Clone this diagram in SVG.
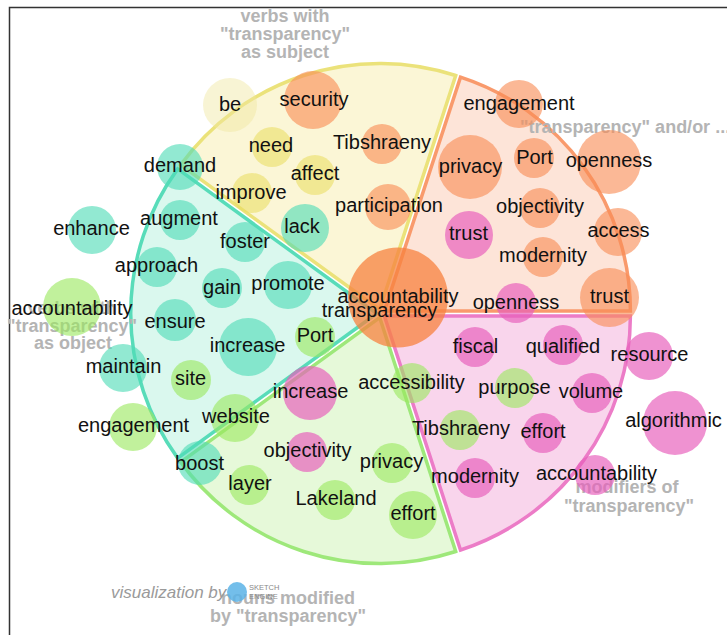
<svg xmlns="http://www.w3.org/2000/svg" width="727" height="635" viewBox="0 0 727 635">
<style>
.lbl{font-family:"Liberation Sans",Arial,sans-serif;font-size:20px;fill:#111;text-anchor:middle}
.cat{font-family:"Liberation Sans",Arial,sans-serif;font-size:18px;font-weight:bold;fill:#b4b4b4;text-anchor:middle}
.or{fill:#f88d55;fill-opacity:0.62}
.orc{fill:#f7813f;fill-opacity:0.75}
.yl{fill:#e9dd5c;fill-opacity:0.55}
.yll{fill:#efe7a0;fill-opacity:0.45}
.cy{fill:#4fdcb6;fill-opacity:0.62}
.gr{fill:#9be860;fill-opacity:0.62}
.pk{fill:#e85fbb;fill-opacity:0.68}
.w{stroke-width:3.5;stroke-linejoin:miter}
</style>
<rect x="0" y="0" width="727" height="635" fill="#fff"/>
<path d="M9.5,635 V7.5 H727" fill="none" stroke="#333" stroke-width="1.5"/>
<g id="sectors">
<path class="w" d="M379.7,309.5 L180.7,164.9 A246,246 0 0 1 455.7,75.5 Z" fill="#fbf6d6" stroke="#ebe27a"/>
<path class="w" d="M384.4,311 L460.5,77.1 A246,246 0 0 1 630.4,311 Z" fill="#fde4d8" stroke="#f99a6c"/>
<path class="w" d="M384.4,316 L630.4,316 A246,246 0 0 1 460.5,550 Z" fill="#f9d5ec" stroke="#ec7cc7"/>
<path class="w" d="M379.7,317.5 L455.7,551.5 A246,246 0 0 1 180.7,462.1 Z" fill="#e6f9d9" stroke="#9ee87a"/>
<path class="w" d="M376.75,313.5 L177.7,458.1 A246,246 0 0 1 177.7,168.9 Z" fill="#daf8ee" stroke="#58dcb9"/>
</g>
<g id="categories">
<text class="cat" x="285" y="22">verbs with</text>
<text class="cat" x="285" y="40">"transparency"</text>
<text class="cat" x="285" y="58">as subject</text>
<text class="cat" x="520" y="133" style="text-anchor:start">"transparency" and/or ...</text>
<text class="cat" x="72" y="314">verbs with</text>
<text class="cat" x="72" y="332">"transparency"</text>
<text class="cat" x="73" y="349">as object</text>
<text class="cat" x="627" y="493">modifiers of</text>
<text class="cat" x="629" y="512">"transparency"</text>
<text class="cat" x="288" y="604">nouns modified</text>
<text class="cat" x="288" y="622">by "transparency"</text>
</g>
<g id="credit">
<text x="111" y="598" style="font-family:'Liberation Sans',Arial,sans-serif;font-size:17px;font-style:italic;fill:#9a9a9a">visualization by</text>
<circle cx="237" cy="592" r="10" fill="#5ab3e6" fill-opacity="0.85"/>
<text x="249" y="590" style="font-family:'Liberation Sans',Arial,sans-serif;font-size:7.5px;fill:#888">SKETCH</text>
<text x="249" y="599" style="font-family:'Liberation Sans',Arial,sans-serif;font-size:7.5px;fill:#888">ENGINE</text>
</g>
<g id="n-be"><circle class="yll" cx="230" cy="105" r="27"/><text class="lbl" x="230" y="111">be</text></g>
<g id="n-security"><circle class="or" cx="313" cy="100" r="29"/><text class="lbl" x="314" y="106">security</text></g>
<g id="n-need"><circle class="yl" cx="272" cy="147" r="20"/><text class="lbl" x="271" y="152">need</text></g>
<g id="n-tibshraeny-s"><circle class="or" cx="382" cy="144" r="20"/><text class="lbl" x="382" y="149">Tibshraeny</text></g>
<g id="n-affect"><circle class="yl" cx="315" cy="175" r="20"/><text class="lbl" x="315" y="180">affect</text></g>
<g id="n-improve"><circle class="yl" cx="252" cy="193" r="20"/><text class="lbl" x="251" y="199">improve</text></g>
<g id="n-participation"><circle class="or" cx="388" cy="207" r="23"/><text class="lbl" x="389" y="212">participation</text></g>
<g id="n-lack"><circle class="cy" cx="305" cy="228" r="24"/><text class="lbl" x="302" y="233">lack</text></g>
<g id="n-demand"><circle class="cy" cx="180" cy="167" r="23"/><text class="lbl" x="180" y="172">demand</text></g>
<g id="n-enhance"><circle class="cy" cx="92" cy="230" r="24"/><text class="lbl" x="91.5" y="235">enhance</text></g>
<g id="n-augment"><circle class="cy" cx="180" cy="220" r="20"/><text class="lbl" x="179" y="225">augment</text></g>
<g id="n-foster"><circle class="cy" cx="245" cy="242" r="20"/><text class="lbl" x="245" y="248">foster</text></g>
<g id="n-approach"><circle class="cy" cx="157" cy="267" r="20"/><text class="lbl" x="156.5" y="272">approach</text></g>
<g id="n-gain"><circle class="cy" cx="222" cy="288" r="20"/><text class="lbl" x="222" y="294">gain</text></g>
<g id="n-promote"><circle class="cy" cx="288" cy="285" r="24"/><text class="lbl" x="288" y="290">promote</text></g>
<g id="n-ensure"><circle class="cy" cx="175" cy="320" r="21"/><text class="lbl" x="175" y="328">ensure</text></g>
<g id="n-increase-o"><circle class="cy" cx="248" cy="347" r="29"/><text class="lbl" x="247.5" y="352">increase</text></g>
<g id="n-port-o"><circle class="gr" cx="315" cy="337" r="20"/><text class="lbl" x="315" y="342">Port</text></g>
<g id="n-maintain"><circle class="cy" cx="123" cy="368" r="24"/><text class="lbl" x="123.5" y="373">maintain</text></g>
<g id="n-site"><circle class="gr" cx="191" cy="380" r="20"/><text class="lbl" x="190.5" y="385">site</text></g>
<g id="n-website"><circle class="gr" cx="235" cy="418" r="24"/><text class="lbl" x="236" y="423">website</text></g>
<g id="n-engagement-o"><circle class="gr" cx="133" cy="427" r="24"/><text class="lbl" x="133.5" y="432">engagement</text></g>
<g id="n-accountability-o"><circle class="gr" cx="72" cy="307" r="29"/><text class="lbl" x="72" y="315">accountability</text></g>
<g id="n-boost"><circle class="cy" cx="200" cy="463" r="22"/><text class="lbl" x="199.5" y="470">boost</text></g>
<g id="n-increase-n"><circle class="pk" cx="310" cy="393" r="27"/><text class="lbl" x="310.5" y="398">increase</text></g>
<g id="n-objectivity-n"><circle class="pk" cx="307" cy="452" r="20"/><text class="lbl" x="307.5" y="457">objectivity</text></g>
<g id="n-layer"><circle class="gr" cx="249" cy="485" r="20"/><text class="lbl" x="250" y="490">layer</text></g>
<g id="n-lakeland"><circle class="gr" cx="335" cy="500" r="20"/><text class="lbl" x="336" y="505">Lakeland</text></g>
<g id="n-privacy-n"><circle class="gr" cx="392" cy="463" r="20"/><text class="lbl" x="391.5" y="468">privacy</text></g>
<g id="n-effort-n"><circle class="gr" cx="413" cy="515" r="24"/><text class="lbl" x="413" y="520">effort</text></g>
<g id="n-accessibility"><circle class="gr" cx="412" cy="383" r="20"/><text class="lbl" x="411.5" y="389">accessibility</text></g>
<g id="n-fiscal"><circle class="pk" cx="475" cy="347" r="20"/><text class="lbl" x="475.5" y="353">fiscal</text></g>
<g id="n-qualified"><circle class="pk" cx="563" cy="345" r="20"/><text class="lbl" x="563" y="353">qualified</text></g>
<g id="n-purpose"><circle class="gr" cx="515" cy="388" r="20"/><text class="lbl" x="514.5" y="394">purpose</text></g>
<g id="n-volume"><circle class="pk" cx="592" cy="393" r="20"/><text class="lbl" x="591" y="398">volume</text></g>
<g id="n-tibshraeny-m"><circle class="gr" cx="460" cy="430" r="20"/><text class="lbl" x="461" y="435">Tibshraeny</text></g>
<g id="n-effort-m"><circle class="pk" cx="543" cy="433" r="20"/><text class="lbl" x="543" y="438">effort</text></g>
<g id="n-modernity-m"><circle class="pk" cx="475" cy="478" r="20"/><text class="lbl" x="475" y="483">modernity</text></g>
<g id="n-accountability-m"><circle class="pk" cx="595" cy="475" r="20"/><text class="lbl" x="596.5" y="480">accountability</text></g>
<g id="n-resource"><circle class="pk" cx="649" cy="356" r="24"/><text class="lbl" x="649.5" y="361">resource</text></g>
<g id="n-algorithmic"><circle class="pk" cx="675" cy="423" r="32"/><text class="lbl" x="673.5" y="427">algorithmic</text></g>
<g id="n-engagement-a"><circle class="or" cx="519" cy="104" r="24"/><text class="lbl" x="519" y="110">engagement</text></g>
<g id="n-privacy-a"><circle class="or" cx="470" cy="167" r="32"/><text class="lbl" x="470.5" y="173">privacy</text></g>
<g id="n-port-a"><circle class="or" cx="534" cy="158" r="20"/><text class="lbl" x="534.5" y="164">Port</text></g>
<g id="n-openness-a1"><circle class="or" cx="609" cy="162" r="32"/><text class="lbl" x="609" y="167">openness</text></g>
<g id="n-objectivity-a"><circle class="or" cx="540" cy="208" r="20"/><text class="lbl" x="540" y="213">objectivity</text></g>
<g id="n-trust-a1"><circle class="pk" cx="469" cy="235" r="24"/><text class="lbl" x="468.5" y="240">trust</text></g>
<g id="n-access"><circle class="or" cx="618" cy="232" r="24"/><text class="lbl" x="618.5" y="237">access</text></g>
<g id="n-modernity-a"><circle class="or" cx="543" cy="257" r="20"/><text class="lbl" x="543" y="262">modernity</text></g>
<g id="n-openness-a2"><circle class="pk" cx="516" cy="303" r="20"/><text class="lbl" x="516" y="309">openness</text></g>
<g id="n-trust-a2"><circle class="or" cx="609.5" cy="297.5" r="29.5"/><text class="lbl" x="609.5" y="303">trust</text></g>
<g id="n-center"><circle class="orc" cx="398" cy="297.5" r="50"/><text class="lbl" x="398" y="303">accountability</text><text class="lbl" x="379.5" y="317">transparency</text></g>
</svg>
